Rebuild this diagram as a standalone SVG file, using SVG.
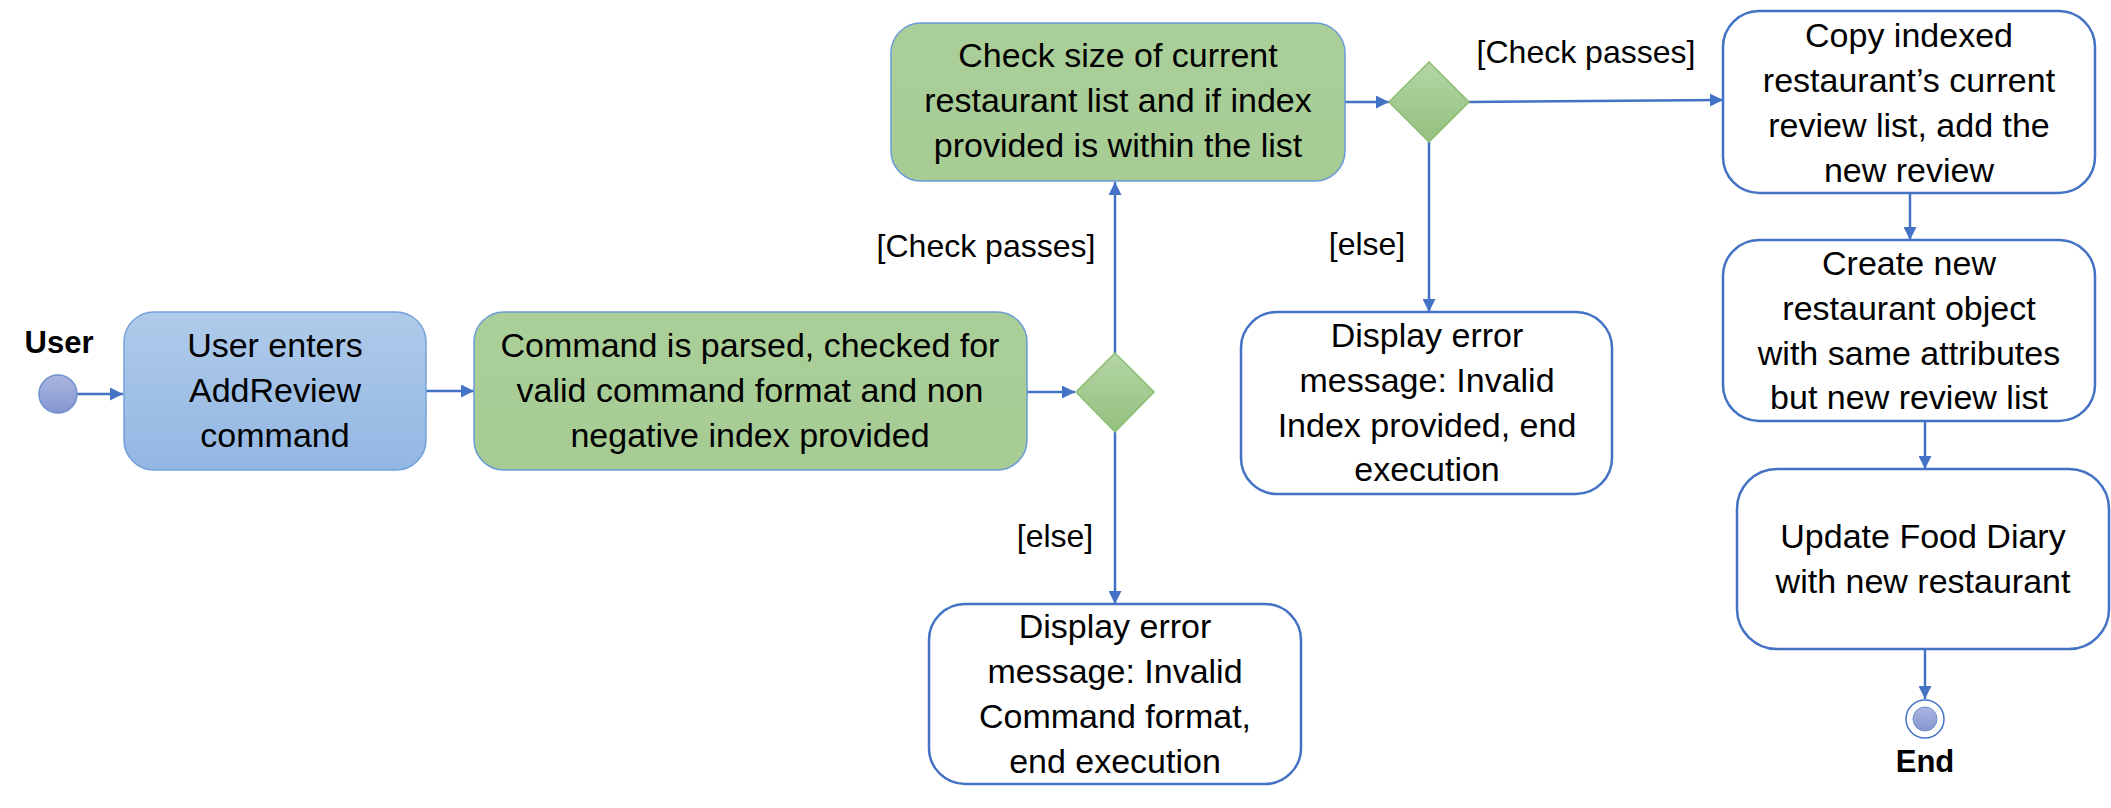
<svg xmlns="http://www.w3.org/2000/svg" width="2111" height="808" viewBox="0 0 2111 808">
<defs>
<linearGradient id="gBlue" x1="0" y1="0" x2="0" y2="1"><stop offset="0" stop-color="#afcbea"/><stop offset="1" stop-color="#93b6e2"/></linearGradient>
<linearGradient id="gGreen" x1="0" y1="0" x2="0" y2="1"><stop offset="0" stop-color="#abcf99"/><stop offset="1" stop-color="#a6cb93"/></linearGradient>
<linearGradient id="gDia" x1="0" y1="0" x2="0" y2="1"><stop offset="0" stop-color="#b4d6a4"/><stop offset="1" stop-color="#94c07e"/></linearGradient>
<linearGradient id="gDot" x1="0" y1="0" x2="0" y2="1"><stop offset="0" stop-color="#aab6e0"/><stop offset="1" stop-color="#8596d0"/></linearGradient>
<marker id="arr" viewBox="0 0 10 10" refX="10" refY="5" markerWidth="13" markerHeight="13" markerUnits="userSpaceOnUse" orient="auto"><path d="M0,0 L10,5 L0,10 z" fill="#4472c4"/></marker>
<style>
.t{font-family:"Liberation Sans",Arial,sans-serif;font-size:34px;fill:#000;text-anchor:middle}
.l{font-family:"Liberation Sans",Arial,sans-serif;font-size:32px;fill:#000;text-anchor:middle}
.b{font-family:"Liberation Sans",Arial,sans-serif;font-size:31px;font-weight:bold;fill:#000;text-anchor:middle}
.wb{fill:#fff;stroke:#4472c4;stroke-width:2.5}
.gb{fill:url(#gGreen);stroke:#6b9bd6;stroke-width:1.5}
.bb{fill:url(#gBlue);stroke:#73a2da;stroke-width:1.5}
.dia{fill:url(#gDia);stroke:#8bbd73;stroke-width:1.5}
.c{fill:none;stroke:#4472c4;stroke-width:2.5;marker-end:url(#arr)}
</style>
</defs>
<rect width="2111" height="808" fill="#fff"/>

<g id="connectors">
<line class="c" x1="77" y1="394" x2="123" y2="394"/>
<line class="c" x1="426" y1="391" x2="474" y2="391"/>
<line class="c" x1="1027" y1="392" x2="1075" y2="392"/>
<line class="c" x1="1115" y1="353" x2="1115" y2="182"/>
<line class="c" x1="1115" y1="432" x2="1115" y2="604"/>
<line class="c" x1="1345" y1="102" x2="1389" y2="102"/>
<line class="c" x1="1469" y1="102" x2="1723" y2="100"/>
<line class="c" x1="1429" y1="142" x2="1429" y2="312"/>
<line class="c" x1="1910" y1="193" x2="1910" y2="240"/>
<line class="c" x1="1925" y1="421" x2="1925" y2="469"/>
<line class="c" x1="1925" y1="649" x2="1925" y2="699"/>
<text class="l" x="986" y="257">[Check passes]</text>
<text class="l" x="1055" y="547">[else]</text>
<text class="l" x="1586" y="63">[Check passes]</text>
<text class="l" x="1367" y="255">[else]</text>
</g>

<g id="start">
<circle cx="58" cy="394" r="19" fill="url(#gDot)" stroke="#6f8fcf" stroke-width="1.5"/>
<text class="b" x="59" y="353">User</text>
</g>

<g id="userEnters">
<rect class="bb" x="124" y="312" width="302" height="158" rx="30"/>
<text class="t" x="275" y="357">User enters</text>
<text class="t" x="275" y="402">AddReview</text>
<text class="t" x="275" y="447">command</text>
</g>

<g id="parseCommand">
<rect class="gb" x="474" y="312" width="553" height="158" rx="30"/>
<text class="t" x="750" y="357">Command is parsed, checked for</text>
<text class="t" x="750" y="402">valid command format and non</text>
<text class="t" x="750" y="447">negative index provided</text>
</g>

<g id="decision1">
<polygon class="dia" points="1115,353 1154,392 1115,432 1076,392"/>
</g>

<g id="checkSize">
<rect class="gb" x="891" y="23" width="454" height="158" rx="30"/>
<text class="t" x="1118" y="67">Check size of current</text>
<text class="t" x="1118" y="112">restaurant list and if index</text>
<text class="t" x="1118" y="157">provided is within the list</text>
</g>

<g id="decision2">
<polygon class="dia" points="1429,62 1469,102 1429,142 1389,102"/>
</g>

<g id="errorCommand">
<rect class="wb" x="929" y="604" width="372" height="180" rx="36"/>
<text class="t" x="1115" y="638">Display error</text>
<text class="t" x="1115" y="683">message: Invalid</text>
<text class="t" x="1115" y="728">Command format,</text>
<text class="t" x="1115" y="773">end execution</text>
</g>

<g id="errorIndex">
<rect class="wb" x="1241" y="312" width="371" height="182" rx="36"/>
<text class="t" x="1427" y="347">Display error</text>
<text class="t" x="1427" y="392">message: Invalid</text>
<text class="t" x="1427" y="437">Index provided, end</text>
<text class="t" x="1427" y="481">execution</text>
</g>

<g id="copyReviews">
<rect class="wb" x="1723" y="11" width="372" height="182" rx="36"/>
<text class="t" x="1909" y="47">Copy indexed</text>
<text class="t" x="1909" y="92">restaurant’s current</text>
<text class="t" x="1909" y="137">review list, add the</text>
<text class="t" x="1909" y="182">new review</text>
</g>

<g id="createRestaurant">
<rect class="wb" x="1723" y="240" width="372" height="181" rx="36"/>
<text class="t" x="1909" y="275">Create new</text>
<text class="t" x="1909" y="320">restaurant object</text>
<text class="t" x="1909" y="365">with same attributes</text>
<text class="t" x="1909" y="409">but new review list</text>
</g>

<g id="updateDiary">
<rect class="wb" x="1737" y="469" width="372" height="180" rx="40"/>
<text class="t" x="1923" y="548">Update Food Diary</text>
<text class="t" x="1923" y="593">with new restaurant</text>
</g>

<g id="end">
<circle cx="1925" cy="719" r="19" fill="#fff" stroke="#4472c4" stroke-width="1.5"/>
<circle cx="1925" cy="719" r="12" fill="url(#gDot)" stroke="#6f8fcf" stroke-width="1"/>
<text class="b" x="1925" y="772">End</text>
</g>
</svg>
